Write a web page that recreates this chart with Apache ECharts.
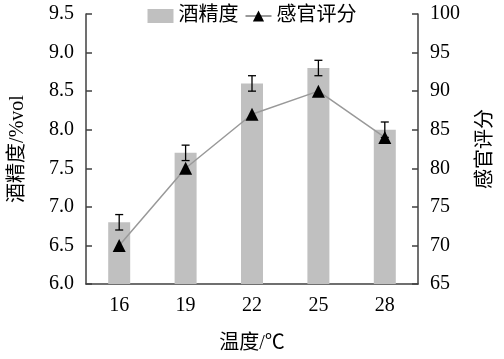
<!DOCTYPE html>
<html>
<head>
<meta charset="utf-8">
<script src="https://cdn.jsdelivr.net/npm/echarts@6/dist/echarts.min.js"></script>
<style>
  html, body { margin: 0; padding: 0; background: #fff; }
  #chart { width: 504px; height: 359px; }
</style>
</head>
<body>
<div id="chart"></div>
<script>
// 温度分类
var temps = ['16', '19', '22', '25', '28'];
// 酒精度 (%vol) 及误差
var alcohol = [6.8, 7.7, 8.6, 8.8, 8.0];
var alcoholErr = [0.1, 0.1, 0.1, 0.1, 0.1];
// 感官评分
var score = [70, 80, 87, 90, 84];

var serif = '"Liberation Serif", "Times New Roman", "Noto Sans CJK SC", serif';
var axisColor = '#404040';

var errData = alcohol.map(function (v, i) {
  return [i, v - alcoholErr[i], v + alcoholErr[i]];
});

var chart = echarts.init(document.getElementById('chart'));

chart.setOption({
  animation: false,
  textStyle: { fontFamily: serif },
  grid: { left: 78, right: 71, top: 14, bottom: 71 },
  legend: {
    top: 1,
    left: 'center',
    itemGap: 6,
    itemWidth: 26,
    itemHeight: 14,
    textStyle: { fontFamily: serif, fontSize: 20, color: '#000' },
    data: [
      { name: '酒精度', icon: 'rect' },
      { name: '感官评分' }
    ]
  },
  xAxis: {
    type: 'category',
    data: temps,
    name: '温度/℃',
    nameLocation: 'middle',
    nameGap: 50,
    nameTextStyle: { fontSize: 20, color: '#000', fontFamily: serif },
    axisLine: { lineStyle: { color: axisColor, width: 1.5 } },
    axisTick: { inside: true, length: 6, lineStyle: { color: axisColor, width: 1.5 } },
    axisLabel: { fontSize: 20, color: '#000', margin: 12 },
    splitLine: { show: false }
  },
  yAxis: [
    {
      type: 'value',
      min: 6.0,
      max: 9.5,
      interval: 0.5,
      name: '酒精度/%vol',
      nameLocation: 'middle',
      nameRotate: 90,
      nameGap: 58,
      nameTextStyle: { fontSize: 20, color: '#000', fontFamily: serif },
      axisLine: { show: true, lineStyle: { color: axisColor, width: 1.5 } },
      axisTick: { show: true, inside: true, length: 6, lineStyle: { color: axisColor, width: 1.5 } },
      axisLabel: {
        fontSize: 20, color: '#000', margin: 12,
        formatter: function (v) { return v.toFixed(1); }
      },
      splitLine: { show: false }
    },
    {
      type: 'value',
      min: 65,
      max: 100,
      interval: 5,
      name: '感官评分',
      nameLocation: 'middle',
      nameRotate: 90,
      nameGap: 58,
      nameTextStyle: { fontSize: 20, color: '#000', fontFamily: serif },
      axisLine: { show: true, lineStyle: { color: axisColor, width: 1.5 } },
      axisTick: { show: true, inside: true, length: 6, lineStyle: { color: axisColor, width: 1.5 } },
      axisLabel: { fontSize: 20, color: '#000', margin: 12 },
      splitLine: { show: false }
    }
  ],
  series: [
    {
      name: '酒精度',
      type: 'bar',
      data: alcohol,
      barWidth: 22,
      itemStyle: { color: '#c0c0c0' },
      z: 1
    },
    {
      name: '误差',
      type: 'custom',
      data: errData,
      z: 3,
      renderItem: function (params, api) {
        var x = api.value(0);
        var lo = api.coord([x, api.value(1)]);
        var hi = api.coord([x, api.value(2)]);
        var hw = 4;
        var style = { stroke: '#000', lineWidth: 1.3 };
        return {
          type: 'group',
          children: [
            { type: 'line', shape: { x1: lo[0], y1: lo[1], x2: hi[0], y2: hi[1] }, style: style },
            { type: 'line', shape: { x1: hi[0] - hw, y1: hi[1], x2: hi[0] + hw, y2: hi[1] }, style: style },
            { type: 'line', shape: { x1: lo[0] - hw, y1: lo[1], x2: lo[0] + hw, y2: lo[1] }, style: style }
          ]
        };
      }
    },
    {
      name: '感官评分',
      type: 'line',
      yAxisIndex: 1,
      data: score,
      symbol: 'triangle',
      symbolSize: 13,
      lineStyle: { color: '#999999', width: 1.5 },
      itemStyle: { color: '#000' },
      z: 4
    }
  ]
});
</script>
</body>
</html>
